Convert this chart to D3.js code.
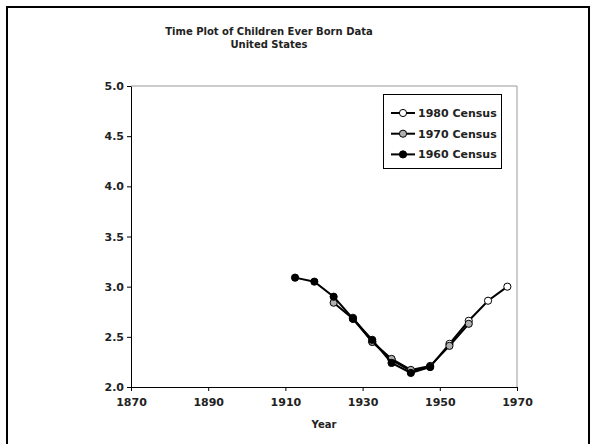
<!DOCTYPE html>
<html>
<head>
<meta charset="utf-8">
<script src="https://cdn.jsdelivr.net/npm/d3@7"></script>
<style>
  body { margin: 0; background: #fff; }
  text { font-family: "DejaVu Sans", Verdana, sans-serif; font-weight: bold; fill: #222; }
</style>
</head>
<body>
<div id="chart"></div>
<script>
// cohort mid-years and mean children ever born, by census
var years1960 = [1912.5, 1917.5, 1922.5, 1927.5, 1932.5, 1937.5, 1942.5, 1947.5];
var cebs1960  = [3.09, 3.05, 2.90, 2.68, 2.47, 2.24, 2.14, 2.20];
var years1970 = [1922.5, 1927.5, 1932.5, 1937.5, 1942.5, 1947.5, 1952.5, 1957.5];
var cebs1970  = [2.84, 2.68, 2.45, 2.28, 2.17, 2.21, 2.41, 2.63];
var years1980 = [1927.5, 1932.5, 1937.5, 1942.5, 1947.5, 1952.5, 1957.5, 1962.5, 1967.5];
var cebs1980  = [2.69, 2.45, 2.27, 2.16, 2.20, 2.43, 2.66, 2.86, 3.00];
var xTicks = [1870, 1890, 1910, 1930, 1950, 1970];
var yTicks = [2.0, 2.5, 3.0, 3.5, 4.0, 4.5, 5.0];
var legendNames = ["1980 Census", "1970 Census", "1960 Census"];

var width = 592, height = 444;
var margin = { top: 86, right: 75, bottom: 57, left: 131 };
var w = width - margin.left - margin.right,
    h = height - margin.top - margin.bottom;

var svg = d3.select("#chart").append("svg")
    .attr("width", width)
    .attr("height", height);

// outer chart frame
svg.append("rect")
    .attr("x", 7).attr("y", 7)
    .attr("width", 582).attr("height", 450)
    .attr("fill", "none").attr("stroke", "#000").attr("stroke-width", 2);

// title
svg.append("text").attr("x", 269).attr("y", 35)
    .attr("text-anchor", "middle").style("font-size", "10px")
    .text("Time Plot of Children Ever Born Data");
svg.append("text").attr("x", 269).attr("y", 48)
    .attr("text-anchor", "middle").style("font-size", "10px")
    .text("United States");

var g = svg.append("g")
    .attr("transform", "translate(" + margin.left + "," + margin.top + ")");

var x = d3.scaleLinear().domain([1870, 1970]).range([0, w]);
var y = d3.scaleLinear().domain([2, 5]).range([h, 0]);

// plot area border (gray top/right)
g.append("path")
    .attr("d", "M0,0H" + w + "V" + h)
    .attr("fill", "none").attr("stroke", "#999").attr("stroke-width", 1);

var xAxis = g.append("g")
    .attr("transform", "translate(0," + h + ")")
    .call(d3.axisBottom(x).tickValues(xTicks).tickFormat(d3.format("d")).tickSize(4).tickSizeOuter(0));
var yAxis = g.append("g")
    .call(d3.axisLeft(y).tickValues(yTicks).tickFormat(d3.format(".1f")).tickSize(4).tickSizeOuter(0));

[xAxis, yAxis].forEach(function (a) {
    a.selectAll("path, line").attr("stroke", "#000");
    a.selectAll("text").style("font-size", "11px").style("font-family", "DejaVu Sans, sans-serif")
        .style("font-weight", "bold").attr("fill", "#222");
});
xAxis.selectAll("text").attr("dy", "1.1em");

svg.append("text")
    .attr("x", margin.left + w / 2).attr("y", 428)
    .attr("text-anchor", "middle").style("font-size", "10px")
    .text("Year");

var line = d3.line()
    .x(function (d) { return x(d[0]); })
    .y(function (d) { return y(d[1]); });

var series = [
    { years: years1980, vals: cebs1980, fill: "#fff" },
    { years: years1970, vals: cebs1970, fill: "#b0b0b0" },
    { years: years1960, vals: cebs1960, fill: "#000" }
];

series.forEach(function (s) {
    var pts = d3.zip(s.years, s.vals);
    g.append("path")
        .datum(pts)
        .attr("fill", "none").attr("stroke", "#000").attr("stroke-width", 2)
        .attr("d", line);
    g.selectAll(null).data(pts).enter().append("circle")
        .attr("cx", function (d) { return x(d[0]); })
        .attr("cy", function (d) { return y(d[1]); })
        .attr("r", 3.6)
        .attr("fill", s.fill).attr("stroke", "#000").attr("stroke-width", 1);
});

// legend
var lg = svg.append("g");
lg.append("rect")
    .attr("x", 383.5).attr("y", 94.5).attr("width", 118).attr("height", 74)
    .attr("fill", "#fff").attr("stroke", "#000").attr("stroke-width", 1);
legendNames.forEach(function (name, i) {
    var ly = 113 + i * 20.7;
    lg.append("line").attr("x1", 391).attr("x2", 415).attr("y1", ly).attr("y2", ly)
        .attr("stroke", "#000").attr("stroke-width", 2);
    lg.append("circle").attr("cx", 403).attr("cy", ly).attr("r", 3.6)
        .attr("fill", series[i].fill).attr("stroke", "#000");
    lg.append("text").attr("x", 418).attr("y", ly + 4)
        .style("font-size", "11px").text(name);
});
</script>
</body>
</html>
